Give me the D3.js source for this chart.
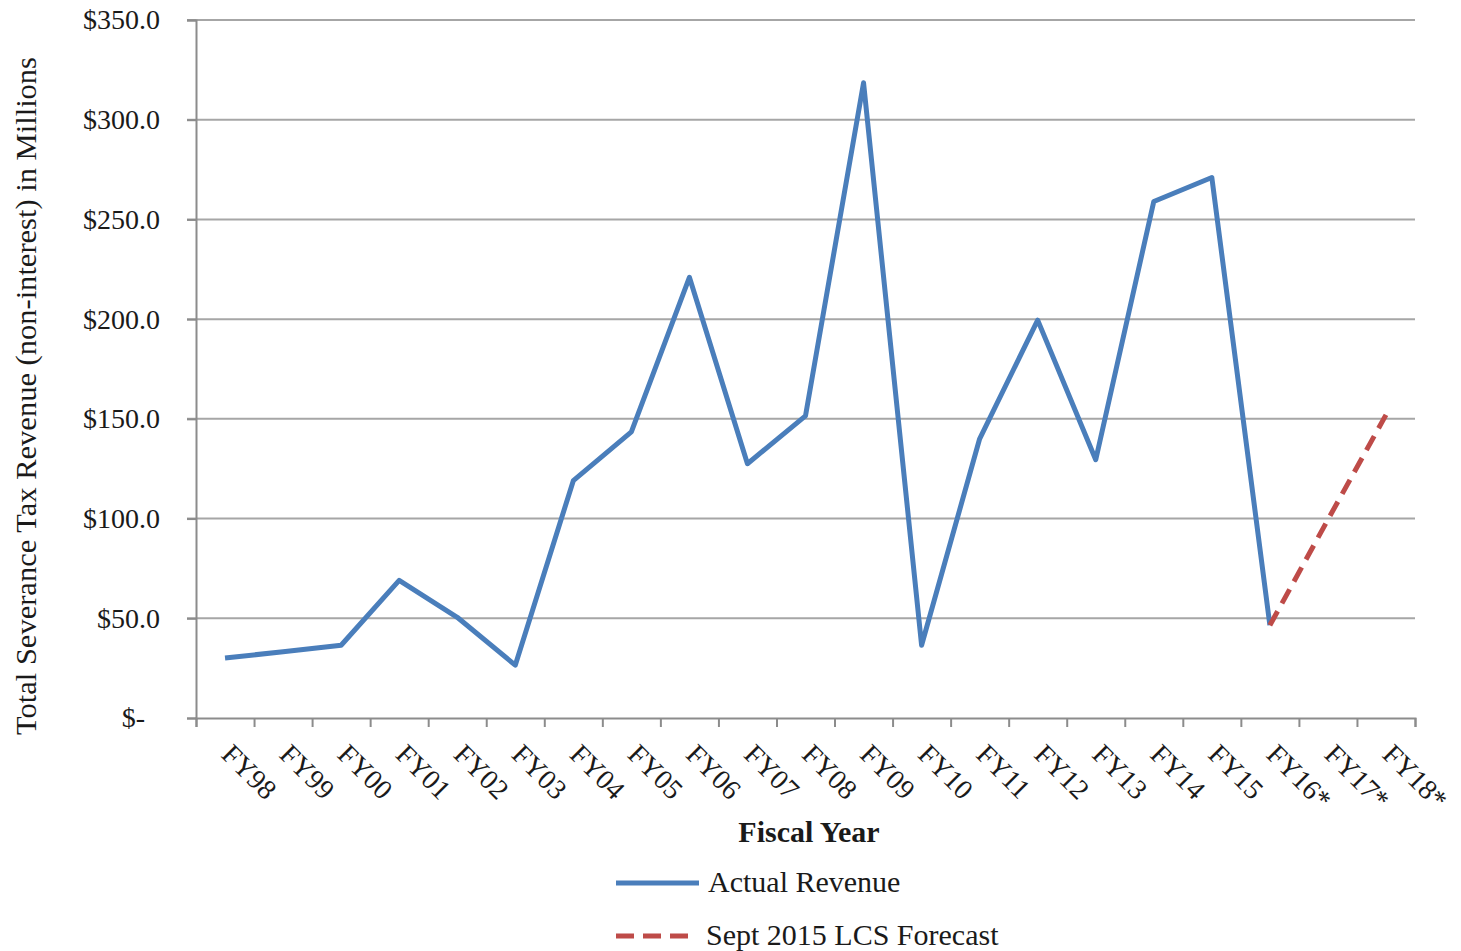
<!DOCTYPE html>
<html>
<head>
<meta charset="utf-8">
<script src="https://cdn.jsdelivr.net/npm/d3@7"></script>
<style>
  body { margin: 0; background: #fff; }
  text { font-family: "Liberation Serif", "DejaVu Serif", serif; fill: #1a1a1a; }
</style>
</head>
<body>
<div id="container"></div>
<script>
/* CONSTANTS AND GLOBALS */
const width = 1461,
  height = 951,
  margin = { top: 20, bottom: 233, left: 196, right: 46 };

/* DATA */
const years = ["FY98", "FY99", "FY00", "FY01", "FY02", "FY03", "FY04", "FY05", "FY06", "FY07",
  "FY08", "FY09", "FY10", "FY11", "FY12", "FY13", "FY14", "FY15", "FY16*", "FY17*", "FY18*"];
const actualYears = years.slice(0, 19);
const actualRevenue = [30.1, 33.2, 36.5, 69.0, 50.5, 26.5, 119.0, 143.5, 221.0, 127.5,
  151.5, 318.5, 36.5, 140.0, 199.5, 129.5, 259.0, 271.0, 46.5];
const forecastYears = ["FY16*", "FY17*", "FY18*"];
const forecastRevenue = [46.5, 99.5, 152.0];
const yTicks = [0, 50, 100, 150, 200, 250, 300, 350];
const legendLabels = ["Actual Revenue", "Sept 2015 LCS Forecast"];

/* SCALES */
const xScale = d3.scaleBand()
  .domain(years)
  .range([margin.left, width - margin.right]);

// band boundaries for the tick marks
const xEdge = d3.scaleLinear()
  .domain([0, years.length])
  .range([margin.left, width - margin.right]);

const yScale = d3.scaleLinear()
  .domain([0, 350])
  .range([height - margin.bottom, margin.top]);

const svg = d3.select("#container").append("svg")
  .attr("width", width)
  .attr("height", height);

// gridlines
svg.append("g")
  .selectAll("line")
  .data(yTicks.filter(d => d > 0))
  .join("line")
  .attr("x1", margin.left - 9)
  .attr("x2", width - margin.right)
  .attr("y1", d => yScale(d))
  .attr("y2", d => yScale(d))
  .attr("stroke", "#a6a6a6")
  .attr("stroke-width", 2);

// y axis
const yAxis = d3.axisLeft(yScale)
  .tickValues(yTicks)
  .tickSize(9)
  .tickFormat(d => d === 0 ? "$-" : "$" + d3.format(".1f")(d));

const yG = svg.append("g")
  .attr("transform", `translate(${margin.left},0)`)
  .call(yAxis);
yG.select(".domain").attr("stroke", "#8c8c8c").attr("stroke-width", 2);
yG.selectAll(".tick line").attr("stroke", "#8c8c8c").attr("stroke-width", 2);
yG.selectAll(".tick text")
  .attr("font-size", 28)
  .attr("font-family", "Liberation Serif")
  .attr("fill", "#1a1a1a")
  .attr("x", d => d === 0 ? -51 : -36);

// x axis tick marks at band edges
const xTickAxis = d3.axisBottom(xEdge)
  .tickValues(d3.range(0, years.length + 1))
  .tickSize(9)
  .tickFormat("");
const xG = svg.append("g")
  .attr("transform", `translate(0,${height - margin.bottom})`)
  .call(xTickAxis);
xG.select(".domain").attr("stroke", "#8c8c8c").attr("stroke-width", 2);
xG.selectAll(".tick line").attr("stroke", "#8c8c8c").attr("stroke-width", 2);

// x labels, rotated
svg.append("g")
  .selectAll("text")
  .data(years)
  .join("text")
  .attr("transform", d => `translate(${xScale(d) + xScale.bandwidth() / 2 - 5},${height - margin.bottom + 38}) rotate(45)`)
  .attr("font-size", 28)
  .text(d => d);

/* LINES */
const line = d3.line()
  .x(d => xScale(d[0]) + xScale.bandwidth() / 2)
  .y(d => yScale(d[1]));

svg.append("path")
  .datum(d3.zip(actualYears, actualRevenue))
  .attr("fill", "none")
  .attr("stroke", "#4a7ebb")
  .attr("stroke-width", 5)
  .attr("stroke-linejoin", "round")
  .attr("d", line);

svg.append("path")
  .datum(d3.zip(forecastYears, forecastRevenue))
  .attr("fill", "none")
  .attr("stroke", "#be4b48")
  .attr("stroke-width", 5)
  .attr("stroke-dasharray", "16,9")
  .attr("d", line);

/* TITLES */
svg.append("text")
  .attr("x", 809)
  .attr("y", 842)
  .attr("text-anchor", "middle")
  .attr("font-size", 30)
  .attr("font-weight", "bold")
  .text("Fiscal Year");

svg.append("text")
  .attr("transform", "translate(36,396) rotate(-90)")
  .attr("text-anchor", "middle")
  .attr("font-size", 30)
  .attr("textLength", 678)
  .attr("lengthAdjust", "spacingAndGlyphs")
  .text("Total Severance Tax Revenue (non-interest) in Millions");

/* LEGEND */
const legend = svg.append("g");
const legendColors = ["#4a7ebb", "#be4b48"];
const legendDash = [null, "18,9"];
legend.selectAll("line")
  .data(legendLabels)
  .join("line")
  .attr("x1", 616)
  .attr("x2", (d, i) => i === 0 ? 699 : 692)
  .attr("y1", (d, i) => 883 + i * 53)
  .attr("y2", (d, i) => 883 + i * 53)
  .attr("stroke", (d, i) => legendColors[i])
  .attr("stroke-width", 5)
  .attr("stroke-dasharray", (d, i) => legendDash[i]);
legend.selectAll("text")
  .data(legendLabels)
  .join("text")
  .attr("x", (d, i) => i === 0 ? 708 : 706)
  .attr("y", (d, i) => 892 + i * 53)
  .attr("font-size", 30)
  .text(d => d);
</script>
</body>
</html>
